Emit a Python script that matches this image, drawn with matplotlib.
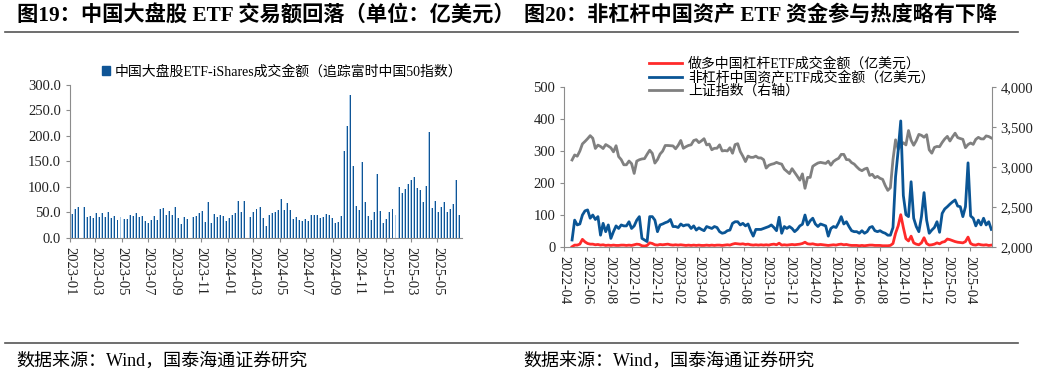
import matplotlib
matplotlib.use('Agg')
import matplotlib.pyplot as plt
import matplotlib.dates as mdates
from matplotlib.lines import Line2D
from matplotlib.patches import Patch
import numpy as np
import pandas as pd

plt.rcParams['font.family'] = ['Liberation Serif', 'Noto Sans CJK SC']
plt.rcParams['axes.unicode_minus'] = False

# ---- fig 19: weekly turnover of iShares China large-cap ETF (100m USD), None = no data
fxi_start = '2023-01-06'
fxi_turnover = [
    46, 56, 61, None, 60, 40, 43, 39, 48, 41, 48, 41, 51, 39, 43, 35, 40, 37, 36, 45,
    43, 48, 41, 43, 33, 29, 34, 42, 35, 57, 58, 45, 52, 45, 61, 39, 27, 40, 36, None,
    41, 43, 48, 53, 31, 71, 29, 47, 41, 44, 42, 33, 39, 45, 48, 73, 51, 73, None, 40,
    51, 56, 60, 39, 23, 44, 48, 50, 54, 77, 54, 69, 54, 37, 40, 35, 33, 37, 32, 45,
    45, 45, 39, 41, 46, 44, 39, 29, 31, 43, 171, 219, 280, 141, 62, 54, 149, 70, 43, 35,
    50, 125, 52, 29, 36, 50, 56, 45, 99, 88, 95, 105, 113, 119, 98, 94, 70, 101, 208, 59,
    73, 51, 61, 71, 50, 56, 66, 113, 44,
]

# ---- fig 20: weekly series (ETF turnover in 100m USD, SSE composite on right axis)
etf_start = '2022-04-22'
lev_long = [
    0, 5, 5, 8, 23, 15, 10, 8, 8, 6, 7, 5, 6, 4, 5, 4, 5, 4, 4, 5,
    5, 4, 5, 4, 6, 8, 7, 3, 2, 4, 12, 10, 6, 5, 7, 6, 7, 8, 6, 5,
    6, 5, 6, 5, 4, 5, 4, 5, 4, 5, 4, 4, 5, 4, 5, 4, 5, 5, 4, 5,
    6, 5, 8, 10, 9, 8, 9, 7, 8, 6, 5, 6, 5, 6, 5, 6, 5, 7, 8, 6,
    11, 5, 6, 5, 6, 7, 6, 7, 8, 10, 14, 9, 8, 9, 7, 6, 7, 6, 5, 4,
    5, 6, 5, 7, 8, 6, 7, 5, 4, 4, 4, 3, 4, 3, 4, 5, 5, 4, 4, 4,
    3, 3, 3, 4, 10, 42, 65, 100, 60, 25, 18, 33, 12, 8, 6, 12, 28, 10, 5, 6,
    8, 12, 9, 14, 16, 24, 22, 19, 16, 14, 13, 12, 16, 30, 10, 6, 5, 8, 6, 5,
    6, 4, 5,
]
non_lev = [
    21, 83, 68, 71, 99, 112, 115, 89, 99, 85, 94, 36, 73, 47, 68, 26, 47, 65, 57, 68,
    65, 65, 78, 57, 65, 83, 94, 26, 21, 16, 94, 94, 83, 47, 68, 71, 75, 78, 85, 63,
    63, 60, 71, 65, 68, 68, 57, 65, 52, 59, 54, 50, 63, 60, 57, 63, 60, 47, 42, 44,
    50, 52, 73, 78, 78, 68, 73, 65, 71, 50, 33, 54, 54, 54, 57, 60, 63, 68, 60, 50,
    92, 42, 63, 57, 63, 57, 47, 54, 65, 70, 99, 68, 81, 89, 71, 63, 71, 68, 65, 33,
    57, 63, 60, 75, 94, 71, 78, 63, 50, 47, 47, 42, 50, 42, 47, 60, 63, 50, 47, 50,
    45, 42, 36, 36, 60, 219, 300, 393, 160, 100, 94, 203, 89, 63, 47, 94, 169, 83, 42, 52,
    60, 78, 45, 104, 118, 125, 133, 140, 146, 127, 125, 94, 125, 262, 96, 89, 65, 83, 68, 89,
    68, 78, 54,
]
sse_index = [
    3084, 3147, 3131, 3195, 3285, 3316, 3350, 3388, 3356, 3228, 3270, 3253, 3227, 3277, 3258, 3236, 3186, 3262, 3126, 3088,
    3024, 3024, 3071, 3038, 2916, 3070, 3087, 3097, 3101, 3156, 3206, 3167, 3045, 3089, 3158, 3195, 3265, 3265, 3263, 3260,
    3224, 3267, 3328, 3230, 3250, 3266, 3273, 3327, 3338, 3301, 3323, 3350, 3272, 3283, 3212, 3230, 3231, 3273, 3197, 3202,
    3197, 3237, 3168, 3276, 3288, 3189, 3131, 3064, 3133, 3117, 3117, 3132, 3110, 3110, 3088, 2983, 3017, 3030, 3038, 3054,
    3041, 3032, 2970, 2942, 2914, 2975, 2929, 2882, 2832, 2910, 2730, 2866, 2866, 3005, 3027, 3046, 3054, 3048, 3041, 3069,
    3019, 3065, 3088, 3105, 3154, 3154, 3089, 3087, 3051, 3033, 2998, 2967, 2950, 2971, 2982, 2891, 2905, 2862, 2879, 2855,
    2842, 2765, 2704, 2737, 3088, 3336, 3217, 3261, 3300, 3272, 3452, 3331, 3268, 3326, 3404, 3392, 3368, 3400, 3211, 3169,
    3241, 3253, 3250, 3303, 3347, 3379, 3321, 3373, 3419, 3364, 3352, 3342, 3238, 3277, 3296, 3279, 3342, 3367, 3348, 3347,
    3385, 3377, 3359,
]

title_left = '图19：中国大盘股 ETF 交易额回落（单位：亿美元）'
title_right = '图20：非杠杆中国资产 ETF 资金参与热度略有下降'
legend_left = '中国大盘股ETF-iShares成交金额（追踪富时中国50指数）'
legend_right = ['做多中国杠杆ETF成交金额（亿美元）', '非杠杆中国资产ETF成交金额（亿美元）', '上证指数（右轴）']
source = '数据来源：Wind，国泰海通证券研究'

W, H = 1043, 374
fig = plt.figure(figsize=(W / 100, H / 100), dpi=100)
axis_gray = '#8c8c8c'

def fx(px):
    return px / W

def fy(py):
    return 1 - py / H

# titles, rules, sources
fig.text(fx(17), fy(16), title_left, fontsize=15.3, fontweight='bold', va='center', ha='left')
fig.text(fx(524), fy(16), title_right, fontsize=15.2, fontweight='bold', va='center', ha='left')
for y in (32, 343):
    fig.add_artist(Line2D([fx(5), fx(1018)], [fy(y), fy(y)], color='#555555', lw=1.2))
fig.text(fx(16), fy(361), source, fontsize=13, va='center', ha='left')
fig.text(fx(523), fy(361), source, fontsize=13, va='center', ha='left')

def style_axes(ax, sides):
    for s in ax.spines:
        ax.spines[s].set_visible(s in sides)
        ax.spines[s].set_color(axis_gray)
    ax.tick_params(colors=axis_gray, labelcolor='#222222', labelsize=10.5, length=3, width=0.8)

# ---- left chart
axL = fig.add_axes([fx(70), fy(237.7), fx(462 - 70), (237.7 - 85) / H])
fxi_dates = pd.date_range(fxi_start, periods=len(fxi_turnover), freq='7D')
fxi = pd.Series([np.nan if v is None else v for v in fxi_turnover], index=fxi_dates).dropna()
axL.bar(fxi.index - pd.Timedelta(hours=27), fxi.values, width=2.3, color='#a9c9e6', linewidth=0)
axL.bar(fxi.index + pd.Timedelta(hours=27), fxi.values, width=2.3, color='#0f5596', linewidth=0)
axL.set_ylim(0, 300)
axL.set_yticks(np.arange(0, 301, 50))
axL.yaxis.set_major_formatter(matplotlib.ticker.FormatStrFormatter('%.1f'))
axL.set_xlim(pd.Timestamp('2023-01-01'), pd.Timestamp('2025-06-27'))
axL.xaxis.set_major_locator(mdates.MonthLocator(bymonth=[1, 3, 5, 7, 9, 11]))
axL.xaxis.set_major_formatter(mdates.DateFormatter('%Y-%m'))
style_axes(axL, ('left', 'bottom'))
plt.setp(axL.get_xticklabels(), rotation=-90, ha='center', va='top')
fig.legend(handles=[Patch(color='#0f5596')], labels=[legend_left], loc='center left',
           bbox_to_anchor=(fx(102), fy(72)), frameon=False, fontsize=10, borderpad=0,
           handlelength=0.6, handleheight=0.6, handletextpad=0.3, borderaxespad=0)

# ---- right chart
axR = fig.add_axes([fx(564.3), fy(246.7), fx(991.7 - 564.3), 160 / H])
etf_dates = pd.date_range(etf_start, periods=len(non_lev), freq='7D')
axR2 = axR.twinx()
l3, = axR2.plot(etf_dates, sse_index, color='#808080', lw=2.0)
l1, = axR.plot(etf_dates, lev_long, color='#ff2a2a', lw=2.0, zorder=3)
l2, = axR.plot(etf_dates, non_lev, color='#0a5595', lw=2.0, zorder=2)
axR.set_zorder(axR2.get_zorder() + 1)
axR.patch.set_visible(False)
axR.set_ylim(0, 500)
axR.set_yticks(np.arange(0, 501, 100))
axR2.set_ylim(2000, 4000)
axR2.set_yticks(np.arange(2000, 4001, 500))
axR2.yaxis.set_major_formatter(matplotlib.ticker.FuncFormatter(lambda v, p: f'{v:,.0f}'))
axR.set_xlim(pd.Timestamp('2022-04-01'), pd.Timestamp('2025-05-31'))
axR.xaxis.set_major_locator(mdates.MonthLocator(bymonth=[2, 4, 6, 8, 10, 12]))
axR.xaxis.set_major_formatter(mdates.DateFormatter('%Y-%m'))
style_axes(axR, ('left', 'bottom'))
style_axes(axR2, ('right',))
plt.setp(axR.get_xticklabels(), rotation=-90, ha='center', va='top')
fig.legend(handles=[l1, l2, l3], labels=legend_right, loc='upper left',
           bbox_to_anchor=(fx(649), fy(57)), frameon=False, fontsize=10, borderpad=0,
           labelspacing=0.0, handlelength=2.4, handletextpad=0.4, borderaxespad=0)

fig.savefig('out.png', dpi=100)
